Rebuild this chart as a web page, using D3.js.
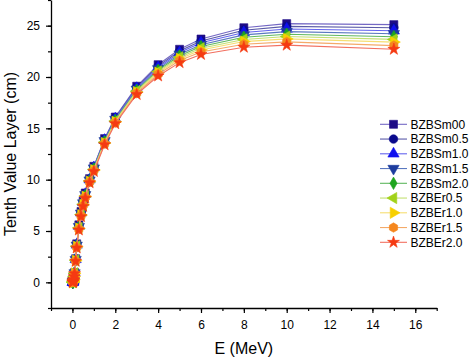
<!DOCTYPE html>
<html><head><meta charset="utf-8">
<script src="https://cdn.jsdelivr.net/npm/d3@7"></script>
<style>body{margin:0;background:#fff}svg{display:block}text{font-family:"Liberation Sans",Arial,sans-serif}</style>
</head><body>
<svg id="c" width="474" height="359"></svg>
<script>
const energies = [0.015,0.02,0.03,0.04,0.05,0.06,0.08,0.1,0.15,0.2,0.3,0.4,0.5,0.6,0.8,1,1.5,2,3,4,5,6,8,10,15];
const seriesNames = ["BZBSm00","BZBSm0.5","BZBSm1.0","BZBSm1.5","BZBSm2.0","BZBEr0.5","BZBEr1.0","BZBEr1.5","BZBEr2.0"];
const BZBSm00  = [0.01,0.02,0.05,0.11,0.2,0.31,0.62,0.95,2.3,3.75,5.6,6.9,7.9,8.7,10.1,11.3,14.0,16.1,19.1,21.2,22.7,23.7,24.8,25.2,25.1];
const BZBSm05  = [0.01,0.02,0.05,0.11,0.2,0.31,0.61,0.94,2.27,3.7,5.53,6.83,7.83,8.63,10.05,11.24,13.92,16.02,19.0,21.06,22.53,23.5,24.55,24.93,24.79];
const BZBSm10  = [0.01,0.02,0.05,0.1,0.19,0.3,0.6,0.93,2.24,3.65,5.48,6.78,7.78,8.58,10.0,11.18,13.85,15.94,18.9,20.93,22.38,23.33,24.33,24.68,24.5];
const BZBSm15  = [0.01,0.02,0.05,0.1,0.19,0.3,0.59,0.91,2.21,3.6,5.42,6.72,7.72,8.52,9.95,11.12,13.78,15.86,18.8,20.79,22.22,23.15,24.1,24.42,24.21];
const BZBSm20  = [0.01,0.02,0.05,0.1,0.19,0.29,0.59,0.9,2.18,3.55,5.36,6.66,7.66,8.46,9.9,11.06,13.71,15.78,18.71,20.66,22.06,22.97,23.87,24.17,23.92];
const BZBEr05  = [0.01,0.02,0.04,0.1,0.18,0.29,0.58,0.89,2.15,3.51,5.3,6.6,7.6,8.4,9.86,11.0,13.64,15.71,18.62,20.54,21.92,22.8,23.66,23.94,23.66];
const BZBEr10  = [0.01,0.02,0.04,0.1,0.18,0.28,0.57,0.88,2.12,3.47,5.25,6.55,7.55,8.35,9.82,10.94,13.57,15.64,18.53,20.42,21.78,22.63,23.45,23.71,23.4];
const BZBEr15  = [0.01,0.02,0.04,0.09,0.17,0.28,0.56,0.86,2.09,3.41,5.18,6.48,7.48,8.28,9.76,10.88,13.49,15.55,18.42,20.27,21.6,22.43,23.19,23.42,23.06];
const BZBEr20  = [0.01,0.02,0.04,0.09,0.17,0.27,0.55,0.85,2.05,3.35,5.1,6.4,7.4,8.2,9.7,10.8,13.4,15.45,18.3,20.1,21.4,22.2,22.9,23.1,22.7];
const seriesValues = [BZBSm00,BZBSm05,BZBSm10,BZBSm15,BZBSm20,BZBEr05,BZBEr10,BZBEr15,BZBEr20];
const xTicks = [0,2,4,6,8,10,12,14,16];
const yTicks = [0,5,10,15,20,25];

// styles
const markerColors = ["#1e0c86","#0a0a8c","#1010ee","#1d3c9e","#1fa51f","#a2d21a","#f7d000","#f5871e","#f53a12"];
const lineColors   = ["#7468c4","#5a5aa8","#6464ee","#5a78c0","#5fb85f","#c3e072","#f6de72","#f4aa6a","#f27060"];
const hexagon = {draw(ctx,size){const r=Math.sqrt(size/(1.5*Math.sqrt(3)));for(let i=0;i<6;i++){const a=Math.PI/3*i+Math.PI/6;const x=r*Math.cos(a),y=r*Math.sin(a);i?ctx.lineTo(x,y):ctx.moveTo(x,y);}ctx.closePath();}};
const symbols = [
  {t:d3.symbolSquare,s:64,r:0},
  {t:d3.symbolCircle,s:58,r:0},
  {t:d3.symbolTriangle,s:55,r:0},
  {t:d3.symbolTriangle,s:55,r:180},
  {t:d3.symbolDiamond,s:45,r:0},
  {t:d3.symbolTriangle,s:55,r:-90},
  {t:d3.symbolTriangle,s:55,r:90},
  {t:hexagon,s:58,r:0},
  {t:d3.symbolStar,s:44,r:0}
];

const svg = d3.select("#c");
const x = d3.scaleLinear().domain([-1,17]).range([51,436.7]);
const y = d3.scaleLinear().domain([-2.5,27.5]).range([308,0]);

// series
seriesValues.forEach((vals,i)=>{
  const pts = energies.map((e,j)=>[e,vals[j]]);
  svg.append("path").datum(pts)
    .attr("fill","none").attr("stroke",lineColors[i]).attr("stroke-width",1.1)
    .attr("d",d3.line().x(d=>x(d[0])).y(d=>y(d[1])));
  const sy = symbols[i];
  svg.append("g").selectAll("path").data(pts).join("path")
    .attr("transform",d=>`translate(${x(d[0])},${y(d[1])}) rotate(${sy.r})`)
    .attr("d",d3.symbol().type(sy.t).size(sy.s)())
    .attr("fill",markerColors[i]).attr("stroke",markerColors[i]).attr("stroke-width",0.6);
});

// axes
const xAxis = svg.append("g").attr("transform","translate(0,308)");
xAxis.call(d3.axisBottom(x).tickValues(d3.range(-1,17.01,1)).tickFormat("").tickSize(3).tickSizeOuter(0));
xAxis.call(g=>g.selectAll(".tick line").attr("stroke-width",1.2));
xAxis.append("g").call(d3.axisBottom(x).tickValues(xTicks).tickSize(5).tickSizeOuter(0).tickFormat(d3.format("d")))
  .call(g=>g.select(".domain").remove())
  .call(g=>g.selectAll(".tick line").attr("stroke-width",1.2))
  .call(g=>g.selectAll("text").attr("font-size",12).attr("fill","#000").attr("font-family","Liberation Sans, Arial, sans-serif").attr("dy","1.05em"));
xAxis.select(".domain").attr("stroke-width",1.3);

const yAxis = svg.append("g").attr("transform","translate(51,0)");
yAxis.call(d3.axisLeft(y).tickValues(d3.range(-2.5,27.51,2.5)).tickFormat("").tickSize(3).tickSizeOuter(0));
yAxis.call(g=>g.selectAll(".tick line").attr("stroke-width",1.2));
yAxis.append("g").call(d3.axisLeft(y).tickValues(yTicks).tickSize(5).tickSizeOuter(0).tickFormat(d3.format("d")))
  .call(g=>g.select(".domain").remove())
  .call(g=>g.selectAll(".tick line").attr("stroke-width",1.2))
  .call(g=>g.selectAll("text").attr("font-size",12).attr("fill","#000").attr("font-family","Liberation Sans, Arial, sans-serif").attr("x",-11));
yAxis.select(".domain").attr("stroke-width",1.3);

// titles
svg.append("text").attr("x",243.8).attr("y",354).attr("text-anchor","middle").attr("font-size",16).text("E (MeV)");
svg.append("text").attr("transform","translate(16,154) rotate(-90)").attr("text-anchor","middle").attr("font-size",16).text("Tenth Value Layer (cm)");

// legend
const lg = svg.append("g");
seriesNames.forEach((n,i)=>{
  const yy = 124.3 + i*14.75;
  lg.append("line").attr("x1",380).attr("x2",407).attr("y1",yy).attr("y2",yy).attr("stroke",lineColors[i]).attr("stroke-width",1.1);
  const sy = symbols[i];
  lg.append("path").attr("transform",`translate(393.5,${yy}) rotate(${sy.r})`)
    .attr("d",d3.symbol().type(sy.t).size(sy.s)())
    .attr("fill",markerColors[i]).attr("stroke",markerColors[i]).attr("stroke-width",0.6);
  lg.append("text").attr("x",410.5).attr("y",yy).attr("dy","0.36em").attr("font-size",12).text(n);
});
</script>
</body></html>
